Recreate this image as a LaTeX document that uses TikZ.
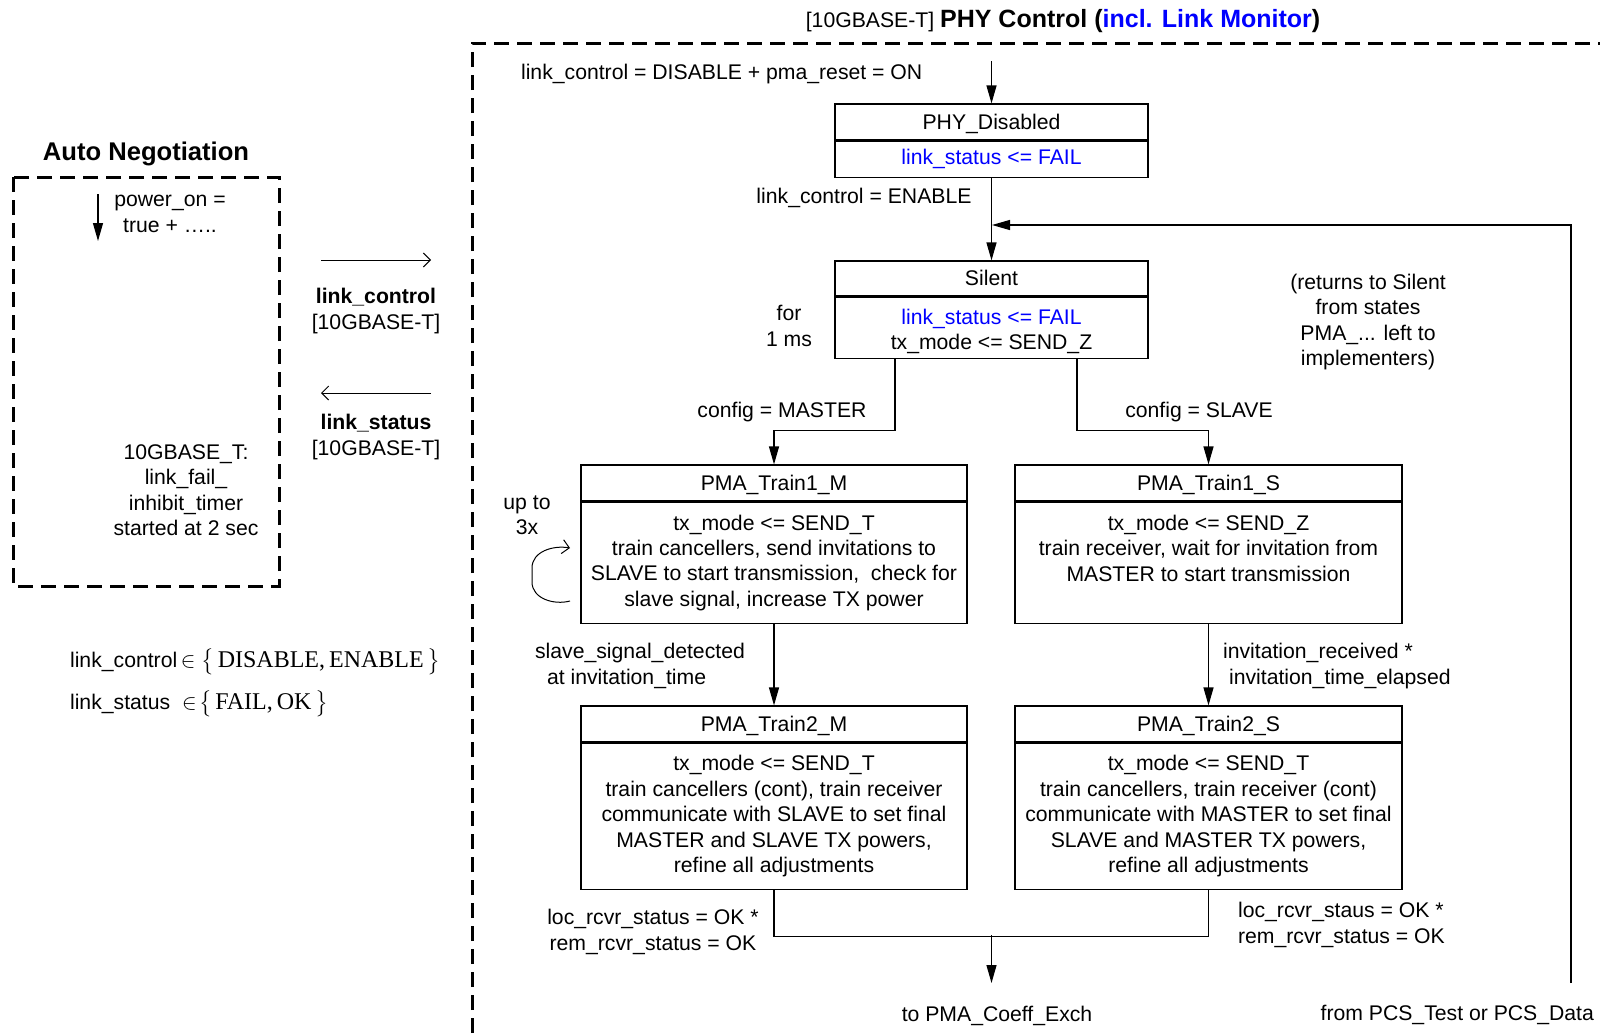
\documentclass[tikz,border=0pt]{standalone}
\usepackage{fontspec}
\usepackage{amsmath}
\usepackage{tikz}
\setmainfont{Liberation Sans}
\newfontfamily\timesfont{Liberation Serif}
\usetikzlibrary{arrows.meta}
\usetikzlibrary{positioning}
\definecolor{lblue}{rgb}{0, 0, 1}

\tikzset{
  shead/.style={draw, line width=0.6pt, minimum height=18pt, inner sep=0pt, text height=0.716em, text depth=0pt},
  sbody/.style={draw, line width=0.6pt, anchor=north, align=center, inner sep=0pt},
  arr/.style={line width=0.6pt, -{Triangle[length=9pt, width=5pt]}},
  oarr/.style={line width=0.5pt, -{Straight Barb[length=3.5pt, width=7pt]}},
  dbox/.style={line width=1.5pt, dash pattern=on 7.5pt off 4pt},
}

\begin{document}
\begin{tikzpicture}[x=0.5pt, y=-0.5pt, font=\fontsize{10.6}{12.7}\selectfont]
    \useasboundingbox (0,0) rectangle (1600,1033);

    % titles
    \node (title) at (1063, 21) {[10GBASE-T] {\bfseries\fontsize{12.5}{14}\selectfont PHY Control (\textcolor{lblue}{incl. Link Monitor})}};
    \node (an) at (146, 154) {\bfseries\fontsize{12.8}{15}\selectfont Auto Negotiation};

    % dashed frames
    \draw [dbox] (13, 177) rectangle (279, 586);
    \draw [dbox] (472, 1033) -- (472, 43) -- (1600, 43);

    % auto negotiation side
    \coordinate (pon) at (98, 194);
    \draw [arr] (pon) -- ++(0, 47);
    \node [align=center] (ponl) at (170, 214) {power\_on =\\true + …..};
    \node [align=center] (timer) at (186, 490) {10GBASE\_T:\\link\_fail\_\\inhibit\_timer\\started at 2 sec};

    \coordinate (lca) at (321, 260);
    \coordinate (lcb) at (431, 260);
    \coordinate (lsa) at (431, 393);
    \coordinate (lsb) at (321, 393);
    \draw [oarr] (lca) -- (lcb);
    \draw [oarr] (lsa) -- (lsb);
    \node [align=center] (lc) at (376, 311) {\bfseries link\_control\\{}[10GBASE-T]};
    \node [align=center] (ls) at (376, 437) {\bfseries link\_status\\{}[10GBASE-T]};

    \node [anchor=west, inner ysep=0pt] (set1) at (63, 662) {link\_control\,$\in\big\{$\,{\timesfont\fontsize{12}{14}\selectfont DISABLE,\kern2pt ENABLE}\,$\big\}$};
    \node [anchor=west, inner ysep=0pt] (set2) at (63, 704) {link\_status\ \ $\in\!\big\{$\,{\timesfont\fontsize{12}{14}\selectfont FAIL,\kern2pt OK}\,$\big\}$};

    % states
    \node [shead, minimum width=156.5pt] (dis) at (991.5, 122) {PHY\_Disabled};
    \node [sbody, minimum width=156.5pt, minimum height=18pt] (disb) at (dis.south) {\textcolor{lblue}{link\_status <= FAIL}};

    \node [shead, minimum width=156.5pt, minimum height=17.5pt] (sil) at (991.5, 278.5) {Silent};
    \node [sbody, minimum width=156.5pt, minimum height=30.5pt] (silb) at (sil.south) {\rule{0pt}{11.5pt}\textcolor{lblue}{link\_status <= FAIL}\\tx\_mode <= SEND\_Z};

    \node [shead, minimum width=193pt] (t1m) at (774, 483) {PMA\_Train1\_M};
    \node [sbody, minimum width=193pt, minimum height=60.5pt] (t1mb) at (t1m.south) {tx\_mode <= SEND\_T\\train cancellers, send invitations to\\SLAVE to start transmission,\ \ check for\\slave signal, increase TX power};

    \node [shead, minimum width=193.5pt] (t1s) at (1208.5, 483) {PMA\_Train1\_S};
    \node [sbody, minimum width=193.5pt, minimum height=60.5pt] (t1sb) at (t1s.south) {tx\_mode <= SEND\_Z\\train receiver, wait for invitation from\\MASTER to start transmission\\[2pt]\mbox{}};

    \node [shead, minimum width=193pt] (t2m) at (774, 724) {PMA\_Train2\_M};
    \node [sbody, minimum width=193pt, minimum height=73pt] (t2mb) at (t2m.south) {tx\_mode <= SEND\_T\\train cancellers (cont), train receiver\\communicate with SLAVE to set final\\MASTER and SLAVE TX powers,\\refine all adjustments};

    \node [shead, minimum width=193.5pt] (t2s) at (1208.5, 724) {PMA\_Train2\_S};
    \node [sbody, minimum width=193.5pt, minimum height=73pt] (t2sb) at (t2s.south) {tx\_mode <= SEND\_T\\train cancellers, train receiver (cont)\\communicate with MASTER to set final\\SLAVE and MASTER TX powers,\\refine all adjustments};

    % transitions
    \coordinate (start) at (991.5, 61);
    \draw [arr] (start) -- (dis.north);
    \node [anchor=west] (rst) at (514, 74) {link\_control = DISABLE + pma\_reset = ON};

    \draw [arr] (disb.south) -- (sil.north);
    \node (en) at (864, 198) {link\_control = ENABLE};

    \coordinate (fb) at (1571, 983);
    \coordinate (fbend) at (992, 225);
    \draw [arr] (fb) |- (fbend);
    \node [align=center] (ret) at (1368, 322) {(returns to Silent\\from states\\PMA\_... left to\\implementers)};
    \node [anchor=east] (pcs) at (1601, 1015) {from PCS\_Test or PCS\_Data};

    \node [align=center] (ms) at (789, 326) {for\\1 ms};

    \draw [arr] ([xshift=-48.25pt]silb.south) -- ++(0, 72) -| (t1m.north);
    \draw [arr] ([xshift=42.75pt]silb.south) -- ++(0, 72) -| (t1s.north);
    \node (cm) at (782, 412) {config = MASTER};
    \node (cs) at (1199, 412) {config = SLAVE};

    \draw [line width=0.5pt, -{Straight Barb[length=3.5pt, width=7pt]}] (570, 601) to[out=195, in=-90] (532, 582) -- (532, 568) to[out=90, in=170] (570, 548);
    \node [align=center] (up) at (527, 515) {up to\\3x};

    \draw [arr] (t1mb.south) -- (t2m.north);
    \draw [arr] (t1sb.south) -- (t2s.north);
    \node [anchor=west, align=left] (ssd) at (528, 666) {slave\_signal\_detected\\\hspace*{6pt}at invitation\_time};
    \node [anchor=west, align=left] (inv) at (1216, 666) {invitation\_received *\\\hspace*{3pt}invitation\_time\_elapsed};

    \draw [line width=0.6pt] (t2mb.south) -- ++(0, 47) -| (t2sb.south);
    \coordinate (mrg) at (991.5, 935);
    \draw [arr] (mrg) -- ++(0, 48);
    \node [align=center] (okm) at (653, 932) {loc\_rcvr\_status = OK *\\rem\_rcvr\_status = OK};
    \node [anchor=west, align=left] (oks) at (1231, 925) {loc\_rcvr\_staus = OK *\\rem\_rcvr\_status = OK};
    \node (coef) at (997, 1016) {to PMA\_Coeff\_Exch};
\end{tikzpicture}
\end{document}
